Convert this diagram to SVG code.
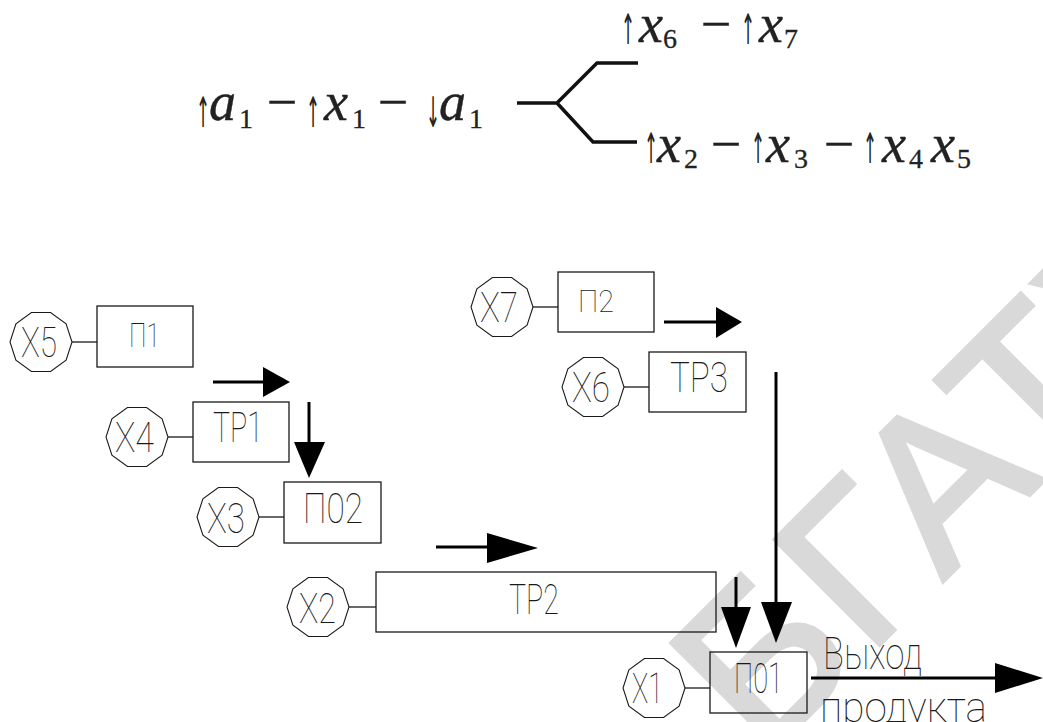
<svg xmlns="http://www.w3.org/2000/svg" xmlns:xlink="http://www.w3.org/1999/xlink" width="1043" height="722" viewBox="0 0 1043 722">
<style>
.box{fill:none;stroke:#1a1a1a;stroke-width:1.3}
.dec{fill:none;stroke:#1a1a1a;stroke-width:1.1}
.ln{stroke:#1a1a1a;stroke-width:1.3;fill:none}
.fl{stroke:#000;stroke-width:3;fill:none}
.ah{fill:#000;stroke:none}
.lbl{font-family:Roboto,"Liberation Sans",sans-serif;font-weight:100;fill:#1a1a1a}
.mn{font-size:54px;fill:#222;stroke:#222;stroke-width:0.4}
.it{font-style:italic}
.sb{font-size:28px;fill:#222;stroke:#222;stroke-width:0.3}
.ar{font-size:42px;fill:#222}
.wm{font-size:215px;letter-spacing:5px;fill:#d9d9d9;stroke:#d9d9d9;stroke-width:5;stroke-linejoin:miter}
.br{stroke:#111;stroke-width:3.5;fill:none}
</style>
<defs>
<polygon id="dec" class="dec" points="31,0 25.08,18.22 9.58,29.48 -9.58,29.48 -25.08,18.22 -31,0 -25.08,-18.22 -9.58,-29.48 9.58,-29.48 25.08,-18.22"/>
</defs>
<rect width="1043" height="722" fill="#fff"/>
<text class="wm" font-family="Liberation Sans, Arial, sans-serif" x="764" y="760" transform="rotate(-45 764 760)">БГАТУ</text>

<g id="formula" font-family="Liberation Serif, Times New Roman, serif">
<text class="ar" font-family="DejaVu Sans, sans-serif" text-anchor="middle" transform="translate(203,127) scale(0.4,1)">↑</text>
<text class="mn it" x="209" y="120">a</text>
<text class="sb" x="239" y="128">1</text>
<text class="mn" x="282" y="120" text-anchor="middle">−</text>
<text class="ar" font-family="DejaVu Sans, sans-serif" text-anchor="middle" transform="translate(313,127) scale(0.4,1)">↑</text>
<text class="mn it" x="324" y="120">x</text>
<text class="sb" x="352" y="128">1</text>
<text class="mn" x="393" y="120" text-anchor="middle">−</text>
<text class="ar" font-family="DejaVu Sans, sans-serif" text-anchor="middle" transform="translate(433,127) scale(0.4,1)">↓</text>
<text class="mn it" x="439" y="120">a</text>
<text class="sb" x="469" y="128">1</text>
<path class="br" d="M517,103 H557 L597,63 H638 M557,103 L593,142 H637"/>
<text class="ar" font-family="DejaVu Sans, sans-serif" text-anchor="middle" transform="translate(628,44) scale(0.4,1)">↑</text>
<text class="mn it" x="639" y="42">x</text>
<text class="sb" x="663" y="48">6</text>
<text class="mn" x="716" y="42" text-anchor="middle">−</text>
<text class="ar" font-family="DejaVu Sans, sans-serif" text-anchor="middle" transform="translate(748,44) scale(0.4,1)">↑</text>
<text class="mn it" x="759" y="42">x</text>
<text class="sb" x="784" y="48">7</text>
<text class="ar" font-family="DejaVu Sans, sans-serif" text-anchor="middle" transform="translate(651,163) scale(0.4,1)">↑</text>
<text class="mn it" x="657" y="162">x</text>
<text class="sb" x="684" y="168">2</text>
<text class="mn" x="726" y="162" text-anchor="middle">−</text>
<text class="ar" font-family="DejaVu Sans, sans-serif" text-anchor="middle" transform="translate(758,163) scale(0.4,1)">↑</text>
<text class="mn it" x="766" y="162">x</text>
<text class="sb" x="794" y="168">3</text>
<text class="mn" x="839" y="162" text-anchor="middle">−</text>
<text class="ar" font-family="DejaVu Sans, sans-serif" text-anchor="middle" transform="translate(870,163) scale(0.4,1)">↑</text>
<text class="mn it" x="882" y="162">x</text>
<text class="sb" x="909" y="168">4</text>
<text class="mn it" x="931" y="162">x</text>
<text class="sb" x="957" y="168">5</text>
</g>

<g id="connectors">
<line class="ln" x1="72" y1="342" x2="97" y2="342"/>
<line class="ln" x1="168" y1="437" x2="193" y2="437"/>
<line class="ln" x1="259" y1="517" x2="284" y2="517"/>
<line class="ln" x1="533" y1="307" x2="558" y2="307"/>
<line class="ln" x1="624" y1="387" x2="649" y2="387"/>
<line class="ln" x1="349" y1="607" x2="376" y2="607"/>
<line class="ln" x1="685" y1="688" x2="710" y2="688"/>
<line class="fl" x1="213" y1="382" x2="264" y2="382"/>
<polygon class="ah" points="263,367 290,382 263,397"/>
<line class="fl" x1="309" y1="402" x2="309" y2="443"/>
<polygon class="ah" points="294,442 325,442 309,478"/>
<line class="fl" x1="664" y1="322" x2="717" y2="322"/>
<polygon class="ah" points="716,307 742,322 716,338"/>
<line class="fl" x1="436" y1="547" x2="488" y2="547"/>
<polygon class="ah" points="487,533 538,548 487,563"/>
<line class="fl" x1="736" y1="577" x2="736" y2="608"/>
<polygon class="ah" points="721,607 751,607 736,648"/>
<line class="fl" x1="776" y1="372" x2="776" y2="603"/>
<polygon class="ah" points="761,602 792,602 776,643"/>
<line class="fl" x1="811" y1="678" x2="996" y2="678"/>
<polygon class="ah" points="995,663 1043,678 995,693"/>
</g>

<g id="node-x5"><use xlink:href="#dec" x="41" y="342"/><text class="lbl" x="21" y="357" font-size="42" textLength="36" lengthAdjust="spacingAndGlyphs">X5</text></g>
<g id="node-p1"><rect class="box" x="97" y="306" width="96" height="61"/><text class="lbl" x="129" y="347" font-size="33" textLength="31" lengthAdjust="spacingAndGlyphs">П1</text></g>
<g id="node-x4"><use xlink:href="#dec" x="137" y="437"/><text class="lbl" x="115" y="452" font-size="42" textLength="39" lengthAdjust="spacingAndGlyphs">X4</text></g>
<g id="node-tr1"><rect class="box" x="193" y="402" width="96" height="60"/><text class="lbl" x="213" y="442" font-size="42" textLength="50" lengthAdjust="spacingAndGlyphs">ТР1</text></g>
<g id="node-x3"><use xlink:href="#dec" x="228" y="517"/><text class="lbl" x="207" y="533" font-size="42" textLength="38" lengthAdjust="spacingAndGlyphs">X3</text></g>
<g id="node-p02"><rect class="box" x="284" y="482" width="97" height="61"/><text class="lbl" x="303" y="523" font-size="42" textLength="60" lengthAdjust="spacingAndGlyphs">П02</text></g>
<g id="node-x7"><use xlink:href="#dec" x="502" y="307"/><text class="lbl" x="480" y="322" font-size="42" textLength="38" lengthAdjust="spacingAndGlyphs">X7</text></g>
<g id="node-p2"><rect class="box" x="558" y="272" width="96" height="60"/><text class="lbl" x="578" y="312" font-size="31" textLength="36" lengthAdjust="spacingAndGlyphs">П2</text></g>
<g id="node-x6"><use xlink:href="#dec" x="593" y="387"/><text class="lbl" x="572" y="402" font-size="42" textLength="38" lengthAdjust="spacingAndGlyphs">X6</text></g>
<g id="node-tr3"><rect class="box" x="649" y="352" width="97" height="60"/><text class="lbl" x="670" y="392" font-size="42" textLength="58" lengthAdjust="spacingAndGlyphs">ТР3</text></g>
<g id="node-x2"><use xlink:href="#dec" x="318" y="607"/><text class="lbl" x="299" y="623" font-size="42" textLength="37" lengthAdjust="spacingAndGlyphs">X2</text></g>
<g id="node-tr2"><rect class="box" x="376" y="572" width="340" height="60"/><text class="lbl" x="509" y="614" font-size="42" textLength="50" lengthAdjust="spacingAndGlyphs">ТР2</text></g>
<g id="node-x1"><use xlink:href="#dec" x="654" y="688"/><text class="lbl" x="632" y="703" font-size="42" textLength="31" lengthAdjust="spacingAndGlyphs">X1</text></g>
<g id="node-p01"><rect class="box" x="710" y="652" width="97" height="61"/><text class="lbl" x="734" y="693" font-size="42" textLength="49" lengthAdjust="spacingAndGlyphs">П01</text></g>
<g id="output-label"><text class="lbl" x="823" y="669" font-size="44" textLength="99" lengthAdjust="spacingAndGlyphs">Выход</text><text class="lbl" x="820" y="722" font-size="42" textLength="167" lengthAdjust="spacingAndGlyphs">продукта</text></g>
</svg>
